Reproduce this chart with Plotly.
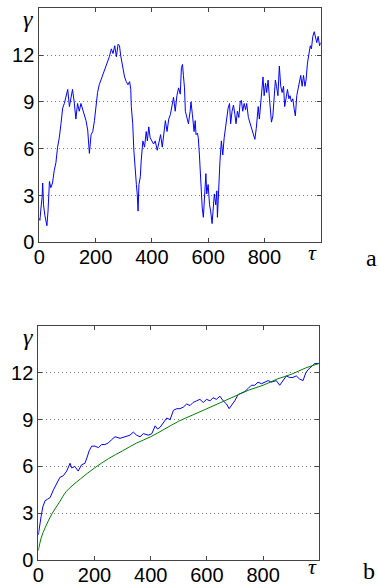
import plotly.graph_objects as go

# ---- data ----
tau_a = [0, 2, 6, 10, 12, 15, 20, 24, 27, 31, 36, 41, 47, 53, 59, 65, 71, 77, 83, 89, 95, 101, 107, 113, 118, 124, 130, 136, 142, 148, 154, 160, 166, 172, 178, 184, 190, 196, 202, 207, 213, 219, 225, 231, 237, 243, 249,
         256, 262, 268, 274, 280, 285, 289, 294, 297, 303, 309, 315, 321, 325, 327, 332, 336, 341, 345, 348, 351, 354, 359, 362, 368, 374, 380, 384, 389, 394, 400, 406, 412, 419, 424, 431, 437, 443, 448, 454, 460, 466, 472, 477, 483, 489, 495, 501, 505, 509,
         512, 516, 519, 524, 530, 536, 539, 544, 550, 554, 557, 562, 565, 569, 574, 579, 583, 587, 592, 595, 600, 605, 609, 614, 618, 622, 627, 631, 633, 638, 642, 647, 652, 657, 661, 666, 671, 676, 680, 685, 690, 695, 699, 704, 709, 714, 718, 723, 728, 733, 737, 743, 749, 755, 761,
         766, 771, 774, 778, 782, 787, 792, 795, 799, 804, 808, 813, 818, 822, 825, 830, 835, 839, 843, 848, 853, 858, 863, 868, 872, 877, 882, 887, 891, 896, 901, 906, 910, 915, 920, 925, 929, 934, 939, 944, 948, 953, 958, 963, 967, 972, 977, 982, 986, 991, 996, 1000]
gamma_a = [1.55, 1.4, 2.2, 2.9, 3.8, 2.4, 1.7, 1.3, 1.06, 2.0, 3.9, 3.5, 3.8, 4.6, 5.1, 6.1, 6.7, 7.6, 8.6, 8.9, 9.3, 9.8, 8.7, 9.3, 9.8, 9.0, 7.9, 8.9, 8.4, 8.9, 8.5, 8.2, 7.8, 7.2, 5.7, 6.9, 7.1, 7.8, 8.8, 9.6, 10.1, 10.4, 10.7, 11.1, 11.4, 11.6, 11.9,
           12.4, 12.1, 12.6, 11.9, 12.7, 12.6, 12.0, 11.4, 11.1, 10.6, 10.3, 10.1, 10.3, 9.8, 8.7, 7.6, 5.9, 4.2, 3.7, 3.1, 2.0, 3.7, 4.2, 5.2, 6.5, 6.1, 7.1, 6.5, 7.4, 6.7, 6.5, 6.3, 6.5, 5.9, 6.3, 6.9, 6.1, 6.9, 7.8, 7.1, 7.9, 8.2, 8.9, 9.3, 8.4, 9.4, 9.9, 9.5, 11.2, 11.4,
           10.7, 9.9, 8.4, 8.0, 7.6, 8.4, 9.0, 8.2, 7.1, 7.8, 6.9, 7.0, 6.7, 5.6, 3.7, 2.2, 1.6, 3.3, 4.4, 3.1, 3.7, 2.4, 2.0, 1.2, 2.0, 3.1, 2.4, 3.3, 1.6, 3.9, 5.2, 6.5, 5.6, 6.7, 7.3, 8.0, 8.6, 8.9, 7.6, 8.4, 8.8, 8.2, 7.6, 8.4, 8.0, 9.0, 9.1, 8.4, 8.9, 8.5, 8.9, 8.0, 7.6, 7.2, 6.9,
           6.6, 7.3, 8.1, 8.7, 7.9, 9.0, 9.6, 10.6, 9.4, 10.2, 9.6, 10.4, 9.2, 8.3, 7.7, 8.1, 9.2, 10.4, 10.0, 9.4, 11.3, 10.0, 9.6, 10.0, 8.7, 9.4, 9.8, 9.2, 9.4, 9.0, 9.2, 8.5, 8.1, 9.4, 9.8, 10.4, 10.7, 10.0, 10.7, 10.0, 10.4, 11.5, 12.1, 12.6, 12.4, 13.2, 13.5, 13.0, 12.8, 13.2, 12.6, 12.8]

tau_b = [0, 5, 10, 16, 24, 33, 42, 54, 60, 65, 77, 89, 101, 113, 119, 130, 142, 154, 166, 174, 181, 190, 202, 214, 225, 237, 249, 260, 273, 291, 309, 326, 338, 350, 362, 374, 392, 404, 416, 424, 433, 445, 457, 469, 481, 493, 504, 516, 528, 540, 551, 563, 575, 587, 599, 611, 622, 634, 646, 658, 670, 679, 688, 699, 711, 723, 735, 747, 758, 770, 782, 794, 806, 818, 829, 847, 859, 871, 883, 894, 906, 918, 930, 942, 952, 960, 972, 984, 1000]
gamma_b = [1.6, 2.3, 2.8, 3.4, 3.8, 3.9, 4.0, 4.5, 4.7, 4.9, 5.3, 5.4, 5.7, 6.2, 5.9, 6.0, 5.7, 6.1, 6.2, 6.6, 7.0, 7.3, 7.3, 7.2, 7.4, 7.4, 7.5, 7.7, 7.9, 7.8, 7.9, 8.0, 8.2, 8.0, 7.9, 8.1, 8.0, 8.1, 8.6, 8.4, 8.5, 8.8, 9.1, 9.0, 9.6, 9.7, 9.7, 9.8, 10.0, 9.9, 10.1, 10.2, 10.3, 10.1, 10.3, 10.2, 10.4, 10.3, 10.5, 10.2, 10.0, 9.7, 9.9, 10.2, 10.6, 10.7, 10.8, 11.0, 11.2, 11.2, 11.4, 11.3, 11.4, 11.5, 11.4, 11.5, 11.2, 11.5, 11.8, 11.7, 11.7, 11.8, 11.6, 11.5, 12.0, 12.2, 12.4, 12.6, 12.6]

tau_fit = [0, 10, 25, 50, 75, 100, 150, 200, 250, 300, 350, 400, 450, 500, 550, 600, 650, 700, 750, 800, 850, 900, 950, 1000]
gamma_fit = [0.6, 1.4, 2.1, 3.0, 3.7, 4.4, 5.2, 5.9, 6.5, 7.0, 7.5, 7.9, 8.4, 8.9, 9.3, 9.7, 10.1, 10.5, 10.9, 11.2, 11.6, 11.9, 12.3, 12.6]

x_ticks = [0, 200, 400, 600, 800]
y_ticks = [0, 3, 6, 9, 12]

W, H = 378, 585

fig = go.Figure()
fig.add_trace(go.Scatter(x=tau_a, y=gamma_a, mode="lines", line=dict(color="#0000ff", width=1),
                         xaxis="x", yaxis="y", showlegend=False))
fig.add_trace(go.Scatter(x=tau_b, y=gamma_b, mode="lines", line=dict(color="#0000ff", width=1),
                         xaxis="x2", yaxis="y2", showlegend=False))
fig.add_trace(go.Scatter(x=tau_fit, y=gamma_fit, mode="lines", line=dict(color="#008000", width=1, shape="spline"),
                         xaxis="x2", yaxis="y2", showlegend=False))

tickfont = dict(family="Liberation Sans, Arial", size=20, color="black")
xcommon = dict(range=[0, 1000], tickvals=x_ticks, ticktext=[str(v) for v in x_ticks],
               showgrid=False, zeroline=False, showline=True, linecolor="#444", linewidth=1,
               mirror="ticks", ticks="inside", ticklen=4, tickcolor="#444", tickfont=tickfont,
               ticklabelstandoff=-3, automargin=False)
ycommon = dict(range=[0, 15], tickvals=y_ticks, ticktext=[str(v) for v in y_ticks],
               showgrid=True, gridcolor="#777", griddash="1px,3px", gridwidth=1,
               zeroline=False, showline=True, linecolor="#444", linewidth=1,
               mirror="ticks", ticks="inside", ticklen=4, tickcolor="#444", tickfont=tickfont,
               automargin=False)

def px_x(p):
    return p / W

def px_y(p):
    return 1 - p / H

fig.update_layout(
    width=W, height=H,
    margin=dict(l=0, r=0, t=0, b=0),
    paper_bgcolor="white", plot_bgcolor="white",
    xaxis=dict(xcommon, domain=[px_x(39.3), px_x(320.7)], anchor="y"),
    yaxis=dict(ycommon, domain=[px_y(242.3), px_y(8.3)], anchor="x"),
    xaxis2=dict(xcommon, domain=[px_x(38.3), px_x(319.3)], anchor="y2"),
    yaxis2=dict(ycommon, domain=[px_y(560), px_y(326)], anchor="x2"),
)

serif = "Liberation Serif, Times New Roman, serif"
labels = [
    ("<i>γ</i>", 27.5, 18.5, 24),
    ("<i>τ</i>", 312, 252, 22),
    ("a", 371, 258, 24),
    ("<i>γ</i>", 27.5, 337.5, 24),
    ("<i>τ</i>", 312.5, 566.5, 22),
    ("b", 368.5, 571, 24),
]
for text, x, y, sz in labels:
    fig.add_annotation(text=text, x=px_x(x), y=px_y(y), xref="paper", yref="paper",
                       showarrow=False, xanchor="center", yanchor="middle",
                       font=dict(family=serif, size=sz, color="black"))

fig.write_html("out.html")
